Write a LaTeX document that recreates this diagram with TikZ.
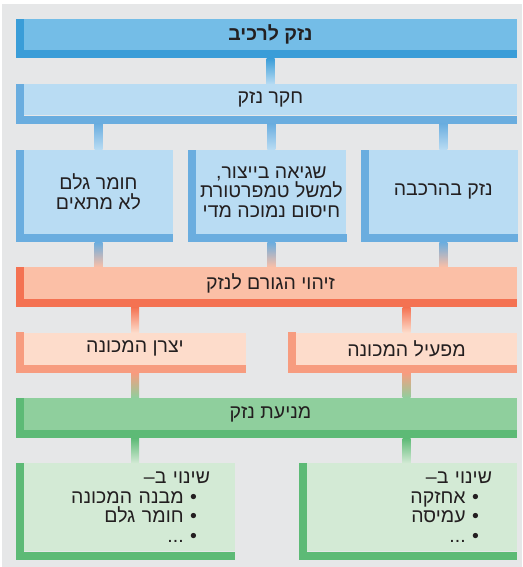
\documentclass[tikz,border=0pt]{standalone}
\usepackage{fontspec}
\newfontfamily\hebfont[Script=Hebrew]{Liberation Sans}
\TeXXeTstate=1
\usetikzlibrary{positioning,calc}

\definecolor{bggray}{HTML}{E6E7E8}
\definecolor{blueA}{HTML}{74BDE7}
\definecolor{blueAb}{HTML}{3A9DD8}
\definecolor{blueB}{HTML}{B9DCF3}
\definecolor{blueBb}{HTML}{6AADDF}
\definecolor{redA}{HTML}{FBBFA6}
\definecolor{redAb}{HTML}{F47252}
\definecolor{redB}{HTML}{FDDCCB}
\definecolor{redBb}{HTML}{F79C7F}
\definecolor{greenA}{HTML}{8FCF9D}
\definecolor{greenB}{HTML}{D3EAD5}
\definecolor{greenb}{HTML}{5DBA76}
\definecolor{ink}{HTML}{231F20}

\newcommand{\hebr}[1]{\beginR #1\endR}

\begin{document}
\begin{tikzpicture}[
  x=1pt, y=-1pt,
  box/.style={rectangle, inner sep=0pt, align=center, text=ink, font=\hebfont\fontsize{19.5}{19.5}\selectfont},
  band/.style={box, minimum width=493pt, minimum height=31pt},
  cell/.style={box, fill=blueB, minimum width=149pt, minimum height=84pt},
  half/.style={box, fill=redB, minimum height=32pt},
  list/.style={box, fill=greenB, minimum height=88pt, align=right}
]
\useasboundingbox (0,0) rectangle (522,567);
\fill[bggray] (2,4) rectangle (522,567);

% research
\node[band, fill=blueA, font=\hebfont\fontsize{19.5}{19.5}\selectfont\bfseries] (T) at (270.5,34.5) {\hebr{נזק לרכיב}};
\node[band, fill=blueB, below=34pt of T] (I) {\hebr{חקר נזק}};
\node[cell, below right=34pt and 0pt of I.south west] (L1) {\hebr{חומר גלם}\\\hebr{לא מתאים}};
\node[cell, minimum width=150pt, right=23pt of L1] (M1) {\hebr{שגיאה בייצור,}\\\hebr{למשל טמפרטורת}\\\hebr{חיסום נמוכה מדי}};
\node[cell, right=22pt of M1] (R1) {\hebr{נזק בהרכבה}};

% cause
\node[band, fill=redA, minimum height=32pt, below right=33pt and 0pt of L1.south west] (C) {\hebr{זיהוי הגורם לנזק}};
\node[half, minimum width=222pt, below right=33pt and 0pt of C.south west] (MK) {\hebr{יצרן המכונה}};
\node[half, minimum width=221pt, below left=33pt and 0pt of C.south east] (OP) {\hebr{מפעיל המכונה}};

% prevention
\node[band, fill=greenA, minimum height=32pt, below right=33pt and 0pt of MK.south west] (P) {\hebr{מניעת נזק}};
\node[list, minimum width=211pt, text width=161pt, below right=33pt and 0pt of P.south west] (BL)
  {\hebr{שינוי ב–}\\\hebr{\hspace*{13pt}• מבנה המכונה}\\\hebr{\hspace*{13pt}• חומר גלם}\\\hebr{\hspace*{13pt}• ...}};
\node[list, minimum width=210pt, text width=160pt, below left=33pt and 0pt of P.south east] (BR)
  {\hebr{שינוי ב–}\\\hebr{\hspace*{13pt}• אחזקה}\\\hebr{\hspace*{13pt}• עמיסה}\\\hebr{\hspace*{13pt}• ...}};

% left and bottom edges
\foreach \n/\c in {T/blueAb, I/blueBb, L1/blueBb, M1/blueBb, R1/blueBb, C/redAb, MK/redBb, OP/redBb, P/greenb, BL/greenb, BR/greenb}{
  \fill[\c] ($(\n.north west)+(-8pt,0)$) rectangle (\n.south west);
  \fill[\c] ($(\n.south west)+(-8pt,-8pt)$) rectangle (\n.south east);
}

% links
\foreach \a/\b/\x/\c/\d in {T/I/I/blueAb/blueB, I/L1/L1/blueBb/blueB, I/M1/M1/blueBb/blueB, I/R1/R1/blueBb/blueB,
    L1/C/L1/blueBb/redA, M1/C/M1/blueBb/redA, R1/C/R1/blueBb/redA,
    C/MK/MK/redAb/redB, C/OP/OP/redAb/redB, MK/P/MK/redBb/greenA, OP/P/OP/redBb/greenA,
    P/BL/MK/greenb/greenB, P/BR/OP/greenb/greenB}
  \shade[top color=\c, bottom color=\d] ($(\a.south -| \x)+(-4pt,-8pt)$) rectangle ($(\b.north -| \x)+(4pt,0)$);
\end{tikzpicture}
\end{document}
